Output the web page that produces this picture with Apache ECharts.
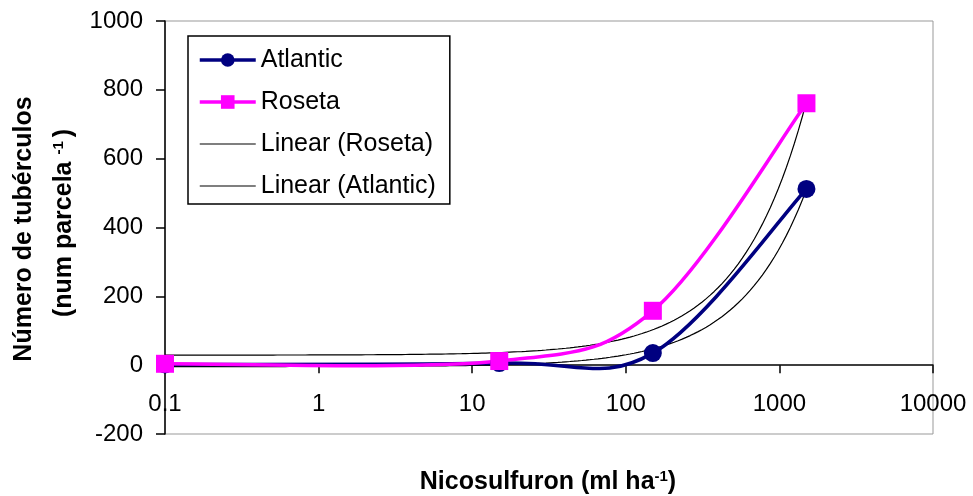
<!DOCTYPE html>
<html>
<head>
<meta charset="utf-8">
<script src="https://cdn.jsdelivr.net/npm/echarts@6/dist/echarts.min.js"></script>
<style>html,body{margin:0;padding:0;background:#fff;}#c{width:973px;height:496px;}</style>
</head>
<body>
<div id="c"></div>
<script>
// Data
var doses = [0.1, 15, 150, 1500];            // Nicosulfuron (ml ha-1)
var atlantic = [2, 6, 35, 512];
var roseta = [4, 12, 158, 761];
var xTickLabels = ['0.1', '1', '10', '100', '1000', '10000'];
var yTicks = [-200, 0, 200, 400, 600, 800, 1000];

// Least-squares linear trendline (Excel "Linear" trendline), drawn on log x axis
function linFit(xs, ys) {
  var n = xs.length, mx = 0, my = 0, sxx = 0, sxy = 0, i;
  for (i = 0; i < n; i++) { mx += xs[i]; my += ys[i]; }
  mx /= n; my /= n;
  for (i = 0; i < n; i++) { sxx += (xs[i]-mx)*(xs[i]-mx); sxy += (xs[i]-mx)*(ys[i]-my); }
  var a = sxy / sxx, b = my - a * mx;
  return function (x) { return a * x + b; };
}
function trend(xs, ys) {
  var f = linFit(xs, ys), out = [], lo = Math.log10(xs[0]), hi = Math.log10(xs[xs.length-1]);
  var steps = 160;
  for (var k = 0; k <= steps; k++) {
    var x = Math.pow(10, lo + (hi - lo) * k / steps);
    out.push([x, f(x)]);
  }
  return out;
}
function pairs(xs, ys) { return xs.map(function (x, i) { return [x, ys[i]]; }); }

// Excel-style smoothed line: Bezier through the data points mapped by the chart's own axes
function smoothRender(xs, ys, color) {
  return function (params, api) {
    if (params.dataIndex !== 0) return;
    var pts = xs.map(function (x, i) { return api.coord([x, ys[i]]); });
    var n = pts.length, d = 'M' + pts[0][0] + ',' + pts[0][1];
    for (var i = 0; i < n - 1; i++) {
      var p0 = pts[Math.max(i - 1, 0)], p1 = pts[i], p2 = pts[i + 1], p3 = pts[Math.min(i + 2, n - 1)];
      var c1x = p1[0] + (p2[0] - p0[0]) / 6, c1y = p1[1] + (p2[1] - p0[1]) / 6;
      var c2x = p2[0] - (p3[0] - p1[0]) / 6, c2y = p2[1] - (p3[1] - p1[1]) / 6;
      d += ' C' + c1x + ',' + c1y + ' ' + c2x + ',' + c2y + ' ' + p2[0] + ',' + p2[1];
    }
    return { type: 'path', shape: { pathData: d },
      style: { fill: 'none', stroke: color, lineWidth: 3.5, lineJoin: 'round', lineCap: 'round' } };
  };
}

var FONT = 'Liberation Sans';
var NAVY = '#000080', MAGENTA = '#FF00FF';
var chart = echarts.init(document.getElementById('c'));
chart.setOption({
  backgroundColor: '#fff',
  animation: false,
  grid: { left: 165, top: 21, right: 40, bottom: 62, show: true, borderColor: '#999', borderWidth: 1, backgroundColor: 'transparent' },
  xAxis: {
    type: 'log', logBase: 10, min: 0.1, max: 10000,
    axisLine: { onZero: true, lineStyle: { color: '#000', width: 1.5 } },
    axisTick: { show: true, length: 8, inside: false, lineStyle: { color: '#000', width: 1.5 } },
    minorTick: { show: false },
    splitLine: { show: false },
    axisLabel: { fontSize: 24, fontFamily: FONT, color: '#000', margin: -42,
      formatter: function (v, i) { return xTickLabels[i]; } }
  },
  yAxis: {
    type: 'value', min: yTicks[0], max: yTicks[yTicks.length-1], interval: 200,
    axisLine: { show: true, onZero: false, lineStyle: { color: '#000', width: 1.5 } },
    axisTick: { show: true, length: 9, lineStyle: { color: '#000', width: 1.5 } },
    splitLine: { show: false },
    axisLabel: { fontSize: 24, fontFamily: FONT, color: '#000', margin: 22,
      formatter: function (v) { return String(v); } }
  },
  legend: {
    orient: 'vertical', left: 188, top: 36, padding: [10, 14, 4, 10], itemGap: 14,
    itemWidth: 56, itemHeight: 17,
    borderColor: '#000', borderWidth: 1.5, backgroundColor: '#fff',
    textStyle: { fontSize: 25, fontFamily: FONT, color: '#000', lineHeight: 28 },
    data: [
      { name: 'Atlantic', lineStyle: { width: 3.5, opacity: 1, color: NAVY } },
      { name: 'Roseta', lineStyle: { width: 3.5, opacity: 1, color: MAGENTA } },
      { name: 'Linear (Roseta)', icon: 'path://M0,0H56V1.2H0Z' },
      { name: 'Linear (Atlantic)', icon: 'path://M0,0H56V1.2H0Z' }
    ]
  },
  series: [
    { name: 'Linear (Roseta)', type: 'line', data: trend(doses, roseta), symbol: 'none', smooth: false,
      lineStyle: { color: '#000', width: 1.2 }, itemStyle: { color: '#000' }, z: 2 },
    { name: 'Linear (Atlantic)', type: 'line', data: trend(doses, atlantic), symbol: 'none', smooth: false,
      lineStyle: { color: '#000', width: 1.2 }, itemStyle: { color: '#000' }, z: 2 },
    { name: 'Atlantic', type: 'line', data: pairs(doses, atlantic),
      symbol: 'circle', symbolSize: 18, showAllSymbol: true,
      lineStyle: { color: NAVY, width: 3.5, opacity: 0 }, itemStyle: { color: NAVY }, z: 5 },
    { name: 'Roseta', type: 'line', data: pairs(doses, roseta),
      symbol: 'rect', symbolSize: 18, showAllSymbol: true,
      lineStyle: { color: MAGENTA, width: 3.5, opacity: 0 }, itemStyle: { color: MAGENTA }, z: 6 },
    { name: 'Atlantic', type: 'custom', coordinateSystem: 'cartesian2d', data: pairs(doses, atlantic),
      renderItem: smoothRender(doses, atlantic, NAVY), itemStyle: { color: NAVY }, z: 3 },
    { name: 'Roseta', type: 'custom', coordinateSystem: 'cartesian2d', data: pairs(doses, roseta),
      renderItem: smoothRender(doses, roseta, MAGENTA), itemStyle: { color: MAGENTA }, z: 4 }
  ],
  graphic: [
    { type: 'text', x: 24, y: 229, rotation: Math.PI / 2,
      style: { text: 'Número de tubérculos', fontSize: 25, fontWeight: 'bold', fontFamily: FONT, fill: '#000',
        align: 'center', verticalAlign: 'middle' } },
    { type: 'text', x: 64, y: 223, rotation: Math.PI / 2,
      style: { text: '(num parcela {sup|-1})', fontSize: 25, fontWeight: 'bold', fontFamily: FONT, fill: '#000',
        align: 'center', verticalAlign: 'middle',
        rich: { sup: { fontSize: 15, fontWeight: 'bold', fontFamily: FONT, fill: '#000', verticalAlign: 'top', padding: [0, 4, 0, 0] } } } },
    { type: 'text', x: 548, y: 482,
      style: { text: 'Nicosulfuron (ml ha{sup|-1})', fontSize: 25, fontWeight: 'bold', fontFamily: FONT, fill: '#000',
        align: 'center', verticalAlign: 'middle',
        rich: { sup: { fontSize: 15, fontWeight: 'bold', fontFamily: FONT, fill: '#000', verticalAlign: 'top' } } } }
  ]
});
</script>
</body>
</html>
